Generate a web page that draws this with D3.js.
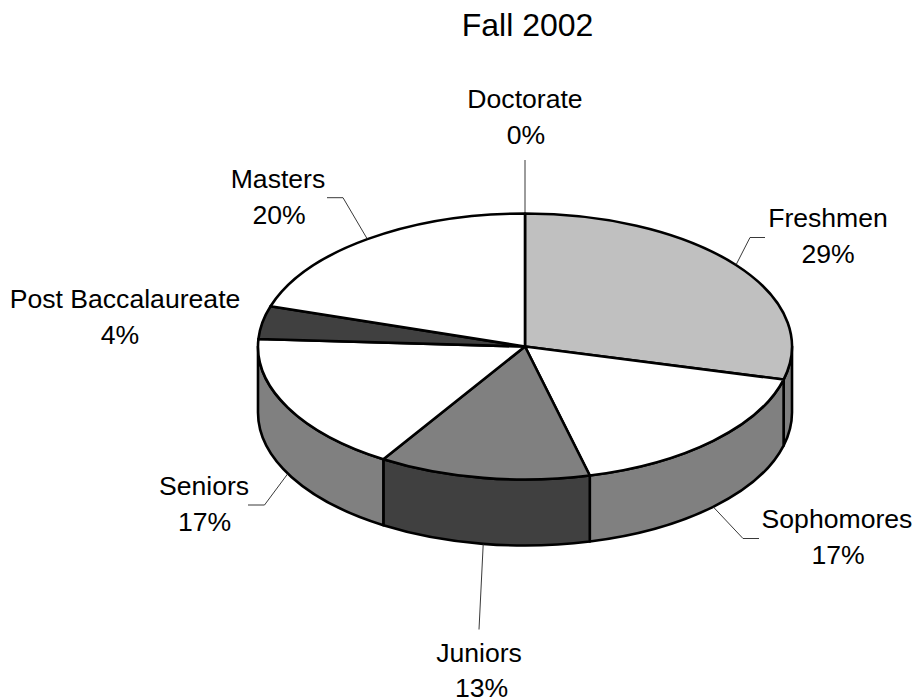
<!DOCTYPE html>
<html><head><meta charset="utf-8">
<script src="https://cdn.jsdelivr.net/npm/d3@7"></script>
<style>html,body{margin:0;padding:0;background:#fff}svg{display:block}text{font-family:"Liberation Sans",Arial,sans-serif;fill:#000}</style>
</head><body><svg id="c" width="914" height="700"></svg>
<script>
const categories = ["Freshmen","Sophomores","Juniors","Seniors","Post Baccalaureate","Masters","Doctorate"];
const percents = [29.0,17.1,12.8,17.0,4.0,20.1,0];
const title = "Fall 2002";
const topFill = ["#c0c0c0","#ffffff","#808080","#ffffff","#404040","#ffffff","#ffffff"];
const sideFill = ["#808080","#808080","#404040","#808080","#404040","#ffffff","#ffffff"];

const cx=525, cy=346.5, rx=267, ry=133, depth=66;
const svg=d3.select("#c");
const arcs=d3.pie().sort(null).startAngle(0).endAngle(2*Math.PI)(percents);
const X=d3.scaleLinear().domain([-1,1]).range([cx-rx,cx+rx]);
const Y=d3.scaleLinear().domain([-1,1]).range([cy-ry,cy+ry]);
const px=a=>X(Math.sin(a)), py=a=>Y(-Math.cos(a));
const STROKE=2.6;

function sidePath(a0,a1){
  const s=Math.max(a0,Math.PI/2), e=Math.min(a1,3*Math.PI/2);
  if(e<=s) return null;
  return `M${px(s)},${py(s)}A${rx},${ry} 0 0 1 ${px(e)},${py(e)}L${px(e)},${py(e)+depth}A${rx},${ry} 0 0 0 ${px(s)},${py(s)+depth}Z`;
}
function topPath(a0,a1){
  const large=(a1-a0)>Math.PI?1:0;
  return `M${cx},${cy}L${px(a0)},${py(a0)}A${rx},${ry} 0 ${large} 1 ${px(a1)},${py(a1)}Z`;
}
const gSide=svg.append("g"), gTop=svg.append("g"), gLead=svg.append("g"), gText=svg.append("g");
gSide.selectAll("path").data(arcs.filter(d=>sidePath(d.startAngle,d.endAngle)&&d.value>0)).join("path")
  .attr("d",d=>sidePath(d.startAngle,d.endAngle))
  .attr("fill",d=>sideFill[d.index]).attr("stroke","#000").attr("stroke-width",STROKE).attr("stroke-linejoin","round");
gTop.selectAll("path").data(arcs.filter(d=>d.value>0)).join("path")
  .attr("d",d=>topPath(d.startAngle,d.endAngle))
  .attr("fill",d=>topFill[d.index]).attr("stroke","#000").attr("stroke-width",STROKE).attr("stroke-linejoin","round");

const layout=[
 {tx:828,px:828,ty:226.7,el:[[750,237.5],[765,237.5]]},
 {tx:837,px:838,ty:528.3,el:[[743,538.5],[759,538.5]]},
 {tx:479,px:481.5,ty:661.5,el:[[479,629.5]]},
 {tx:204,px:204.5,ty:495,el:[[264.5,505],[248,505]]},
 {tx:125,px:120,ty:308.3,el:null},
 {tx:278,px:279,ty:187.7,el:[[343,197.7],[327,197.7]]},
 {tx:525,px:526,ty:107.7,el:[[525,160]]}
];
arcs.forEach((d,i)=>{
  const l=layout[i], m=(d.startAngle+d.endAngle)/2;
  if(l.el){
    const front=Math.cos(m)<0;
    const start=[px(m),py(m)+(front?depth:0)];
    gLead.append("path").attr("d",d3.line()([start,...l.el])).attr("fill","none").attr("stroke","#222").attr("stroke-width",0.9);
  }
  const t=gText.append("text").attr("text-anchor","middle").attr("font-size",26.6);
  t.append("tspan").attr("x",l.tx).attr("y",l.ty).text(categories[i]);
  t.append("tspan").attr("x",l.px).attr("y",l.ty+35.8).text(d3.format(".0f")(d.value)+"%");
});
gText.append("text").attr("x",527.5).attr("y",36).attr("text-anchor","middle").attr("font-size",32).text(title);
</script></body></html>
